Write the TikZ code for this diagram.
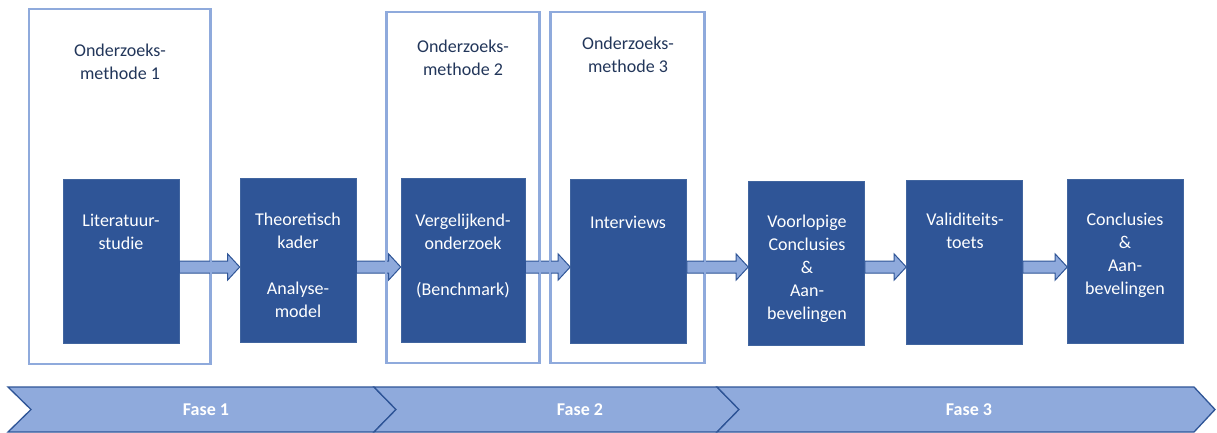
\documentclass[tikz,border=0pt]{standalone}
\usepackage{fontspec}
\setmainfont{Carlito}
\usetikzlibrary{calc}
\definecolor{navy}{HTML}{2F5597}
\definecolor{paleblue}{HTML}{8FAADC}
\definecolor{edgeblue}{HTML}{41659F}
\definecolor{labelink}{HTML}{22365A}
\tikzset{
  methodbox/.style={draw=paleblue, line width=1.8pt, fill=white, inner sep=0pt},
  stepbox/.style={draw=edgeblue, line width=0.6pt, fill=navy, inner sep=0pt,
    minimum width=116pt, minimum height=164pt},
  % top of the node sits 14pt above the baseline of its first line
  toptext/.style={align=center, anchor=north, inner sep=0pt,
    font=\fontsize{18}{23}\selectfont, execute at begin node={\rule{0pt}{14pt}}},
  steptext/.style={toptext, text=white},
  methodtext/.style={toptext, text=labelink},
  flowarrow/.style={fill=paleblue, draw=navy, line width=1pt, line join=miter},
  phase/.style={fill=paleblue, draw=navy, line width=1.3pt, line join=miter},
  phasetext/.style={text=white, font=\fontsize{18}{22}\selectfont\bfseries, inner sep=0pt},
}
% block arrow from the east side of one step to the west side of the next
\newcommand{\blockarrow}[2]{%
  \draw[flowarrow] let \p1=(#1.east), \p2=(#2.west), \p3=(arrowrow) in
    (\x1,\y3+6pt) -- (\x2-12pt,\y3+6pt) -- (\x2-12pt,\y3+13pt) -- (\x2,\y3)
    -- (\x2-12pt,\y3-13pt) -- (\x2-12pt,\y3-6pt) -- (\x1,\y3-6pt) -- cycle;}
\begin{document}
\begin{tikzpicture}[x=1pt,y=-1pt]
\useasboundingbox[fill=white] (0,0) rectangle (1217,432);
\coordinate (arrowrow) at (0,267);

% research-method frames
\node[methodbox, minimum width=181pt, minimum height=355pt] (m1) at (119.5,186.5) {};
\node[methodbox, minimum width=152pt, minimum height=351pt] (m2) at (463,187.5) {};
\node[methodbox, minimum width=153pt, minimum height=351pt] (m3) at (627.5,187.5) {};

\node[methodtext] (m1t) at (120,44) {Onderzoeks-\\methode 1};
\node[methodtext] (m2t) at (463,40) {Onderzoeks-\\methode 2};
\node[methodtext] (m3t) at (628,37) {Onderzoeks-\\methode 3};

% process steps
\node[stepbox] (lit) at (121,261.5) {};
\node[stepbox] (the) at (298,260.5) {};
\node[stepbox, minimum width=124pt] (ver) at (463,260) {};
\node[stepbox] (int) at (628.5,261.5) {};
\node[stepbox] (voo) at (806.5,263) {};
\node[stepbox] (val) at (964.5,262) {};
\node[stepbox] (con) at (1125.5,261) {};

% arrows between the steps
\blockarrow{lit}{the}
\blockarrow{the}{ver}
\blockarrow{ver}{int}
\blockarrow{int}{voo}
\blockarrow{voo}{val}
\blockarrow{val}{con}

% redraw the frame edges that the arrows cross
\draw[paleblue, line width=1.8pt] (m1.north east) -- (m1.south east);
\draw[paleblue, line width=1.8pt] (m2.north west) -- (m2.south west);
\draw[paleblue, line width=1.8pt] (m2.north east) -- (m2.south east);
\draw[paleblue, line width=1.8pt] (m3.north west) -- (m3.south west);
\draw[paleblue, line width=1.8pt] (m3.north east) -- (m3.south east);

\node[steptext] (litt) at (121,214) {Literatuur-\\studie};
\node[steptext] (thet) at (298,213) {Theoretisch\\kader\\[23pt]Analyse-\\model};
\node[steptext] (vert) at (463,214) {Vergelijkend-\\onderzoek\\[23pt](Benchmark)};
\node[steptext] (intt) at (628,214) {Interviews};
\node[steptext] (voot) at (807,215) {Voorlopige\\Conclusies\\\&\\Aan-\\bevelingen};
\node[steptext] (valt) at (965,213) {Validiteits-\\toets};
\node[steptext] (cont) at (1125,213) {Conclusies\\\&\\Aan-\\bevelingen};

% phase band
\draw[phase] (8,387) -- (374,387) -- (396,409.5) -- (374,432) -- (8,432) -- (31,409.5) -- cycle;
\draw[phase] (374,387) -- (717,387) -- (739,409.5) -- (717,432) -- (374,432) -- (396,409.5) -- cycle;
\draw[phase] (717,387) -- (1194,387) -- (1215,409.5) -- (1194,432) -- (717,432) -- (739,409.5) -- cycle;
\node[phasetext] (f1) at (206,410) {Fase 1};
\node[phasetext] (f2) at (580,410) {Fase 2};
\node[phasetext] (f3) at (969,410) {Fase 3};
\end{tikzpicture}
\end{document}
